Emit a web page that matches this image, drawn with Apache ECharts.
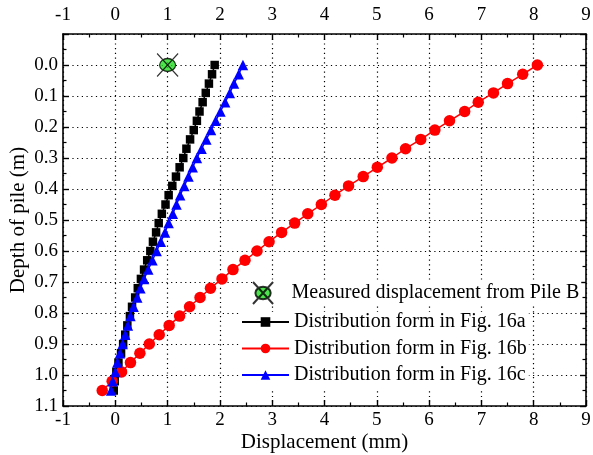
<!DOCTYPE html>
<html>
<head>
<meta charset="utf-8">
<script src="https://cdn.jsdelivr.net/npm/echarts@6/dist/echarts.min.js"></script>
<style>
  html, body { margin: 0; padding: 0; background: #fff; }
  #chart { width: 593px; height: 455px; }
</style>
</head>
<body>
<div id="chart"></div>
<script>
/* Pile displacement vs depth. */
const FONT = '"Liberation Serif", "Times New Roman", serif';

// depth of each computed point (m), one every 0.03 m
const depth = [0, 0.03, 0.06, 0.09, 0.12, 0.15, 0.18, 0.21, 0.24, 0.27, 0.30, 0.33,
  0.36, 0.39, 0.42, 0.45, 0.48, 0.51, 0.54, 0.57, 0.60, 0.63, 0.66, 0.69,
  0.72, 0.75, 0.78, 0.81, 0.84, 0.87, 0.90, 0.93, 0.96, 0.99, 1.02, 1.05];

// displacement (mm)
const fig16a = [1.90, 1.85, 1.79, 1.73, 1.67, 1.61, 1.56, 1.50, 1.43, 1.36, 1.30, 1.23,
  1.16, 1.09, 1.02, 0.96, 0.89, 0.83, 0.78, 0.72, 0.67, 0.61, 0.55, 0.49,
  0.43, 0.38, 0.32, 0.28, 0.23, 0.19, 0.15, 0.11, 0.06, 0.02, -0.01, -0.03];
const fig16b = [8.07, 7.79, 7.50, 7.23, 6.94, 6.68, 6.39, 6.11, 5.84, 5.55, 5.29, 5.01,
  4.74, 4.46, 4.20, 3.94, 3.68, 3.43, 3.18, 2.94, 2.71, 2.48, 2.25, 2.04,
  1.82, 1.62, 1.42, 1.23, 1.03, 0.84, 0.65, 0.47, 0.29, 0.12, -0.06, -0.25];
const fig16c = [2.44, 2.36, 2.27, 2.19, 2.10, 2.01, 1.92, 1.83, 1.74, 1.65, 1.56, 1.48,
  1.40, 1.32, 1.24, 1.17, 1.10, 1.02, 0.95, 0.87, 0.79, 0.71, 0.63, 0.55,
  0.48, 0.42, 0.35, 0.29, 0.24, 0.19, 0.14, 0.09, 0.04, 0.00, -0.05, -0.08];

// measured at pile head
const measured = [[1.0, 0.0]];

const names = ['Measured displacement from Pile B', 'Distribution form in Fig. 16a',
  'Distribution form in Fig. 16b', 'Distribution form in Fig. 16c'];

const pair = (xs) => xs.map((x, i) => [x, depth[i]]);

// green ellipse with a cross through it
const crossedCircle = 'path://M-8,0 C-8,-3.59 -4.42,-6.5 0,-6.5 C4.42,-6.5 8,-3.59 8,0 ' +
  'C8,3.59 4.42,6.5 0,6.5 C-4.42,6.5 -8,3.59 -8,0 Z ' +
  'M-10.5,-11.5 L10.5,11.5 M-10.5,11.5 L10.5,-11.5';

const chart = echarts.init(document.getElementById('chart'));

const tickCommon = {
  axisLine: { onZero: false, lineStyle: { color: '#000', width: 1.6 } },
  axisTick: { inside: true, length: 6, lineStyle: { color: '#000', width: 1.4 } },
  minorTick: { show: true, splitNumber: 2, length: 3.5, lineStyle: { color: '#000', width: 1.2 } },
  axisLabel: { color: '#000', fontFamily: FONT, fontSize: 19 },
};
const dotted = { show: true, lineStyle: { color: '#000', type: [1.2, 3.5], width: 1.2 } };
const nameStyle = { color: '#000', fontFamily: FONT, fontSize: 21 };
const legendText = { color: '#000', fontFamily: FONT, fontSize: 20 };

const xBase = { type: 'value', min: -1, max: 9, interval: 1 };
const yBase = { type: 'value', min: -0.1, max: 1.1, interval: 0.1, inverse: true };

chart.setOption({
  animation: false,
  grid: { left: 63, right: 7, top: 34, bottom: 49, outerBoundsMode: 'none', containLabel: false },
  xAxis: [
    Object.assign({}, xBase, tickCommon, {
      position: 'bottom',
      name: 'Displacement (mm)', nameLocation: 'middle', nameGap: 26,
      nameMoveOverlap: false,
      nameTextStyle: nameStyle,
      axisLabel: Object.assign({}, tickCommon.axisLabel, { margin: 5 }),
      splitLine: dotted,
    }),
    Object.assign({}, xBase, tickCommon, {
      position: 'top',
      axisLabel: Object.assign({}, tickCommon.axisLabel, { margin: 9 }),
      splitLine: { show: false },
    }),
  ],
  yAxis: [
    Object.assign({}, yBase, tickCommon, {
      position: 'left',
      name: 'Depth of pile (m)', nameLocation: 'middle', nameGap: 34,
      nameMoveOverlap: false,
      nameTextStyle: nameStyle,
      axisLabel: Object.assign({}, tickCommon.axisLabel, {
        margin: 5,
        formatter: (v) => (v < -0.01 ? '' : Math.abs(v).toFixed(1)),
      }),
      splitLine: dotted,
    }),
    Object.assign({}, yBase, tickCommon, {
      position: 'right',
      axisLabel: { show: false },
      splitLine: { show: false },
    }),
  ],
  legend: [
    {
      data: [names[0]], orient: 'vertical', left: 252, top: 281,
      itemWidth: 47, itemHeight: 22, padding: [0, 2, 0, 0],
      backgroundColor: '#fff',
      textStyle: legendText,
    },
    {
      data: names.slice(1), orient: 'vertical', left: 241, top: 312,
      itemWidth: 47, itemHeight: 12, itemGap: 6.5, padding: [0, 2, 4, 0],
      backgroundColor: '#fff',
      textStyle: legendText,
    },
  ],
  series: [
    {
      name: names[0], type: 'scatter', data: measured,
      symbol: crossedCircle, symbolSize: [21, 23],
      itemStyle: { color: '#22dd22', borderColor: '#000', borderWidth: 1.2 },
      z: 5,
    },
    {
      name: names[1], type: 'line', data: pair(fig16a),
      symbol: 'rect', symbolSize: 8.5,
      lineStyle: { color: '#000', width: 1.5 }, itemStyle: { color: '#000' },
    },
    {
      name: names[2], type: 'line', data: pair(fig16b),
      symbol: 'circle', symbolSize: 11.5,
      lineStyle: { color: '#ff0000', width: 1.5 }, itemStyle: { color: '#ff0000' },
    },
    {
      name: names[3], type: 'line', data: pair(fig16c),
      symbol: 'triangle', symbolSize: 10.5,
      lineStyle: { color: '#0000ff', width: 1.5 }, itemStyle: { color: '#0000ff' },
    },
  ],
});
</script>
</body>
</html>
